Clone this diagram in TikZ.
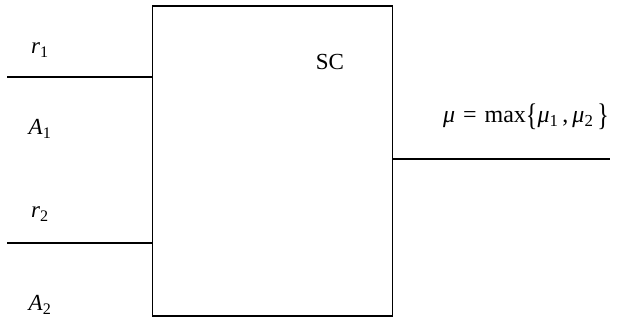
\documentclass[tikz,border=0pt]{standalone}
\usepackage{fontspec}
\usepackage{graphicx}
\setmainfont{Liberation Serif}
\newcommand{\bigbr}[1]{\raisebox{-0.12em}{\scalebox{1}[1.3]{#1}}}
\begin{document}
\begin{tikzpicture}[x=1pt,y=-1pt,
  wire/.style={line width=1.3pt},
  lbl/.style={font=\fontsize{23}{27}\selectfont, inner sep=0pt}]
\useasboundingbox (0,0) rectangle (622,322);
\node[draw, line width=1.5pt, minimum width=240pt, minimum height=310pt, inner sep=0pt, anchor=north west] (sc) at (151.5,5) {};
\node[lbl] (sclbl) at (330,62) {SC};
\coordinate (in1) at (7,77);
\coordinate (in2) at (7,243);
\coordinate (out) at (610,159);
\draw[wire] (in1) -- (in1 -| sc.west);
\draw[wire] (in2) -- (in2 -| sc.west);
\draw[wire] (out -| sc.east) -- (out);
\node[lbl] (r1) at (40,50) {\textit{r}\textsubscript{1}};
\node[lbl] (a1) at (40,129) {\textit{A}\textsubscript{1}};
\node[lbl] (r2) at (40,214) {\textit{r}\textsubscript{2}};
\node[lbl] (a2) at (40,305) {\textit{A}\textsubscript{2}};
\node[lbl, font=\fontsize{24}{28}\selectfont] (mu) at (526,117) {\textit{μ}\,\,=\,\,max\bigbr{\{}\textit{μ}\textsubscript{1}\,,\,\textit{μ}\textsubscript{2}\,\bigbr{\}}};
\end{tikzpicture}
\end{document}
